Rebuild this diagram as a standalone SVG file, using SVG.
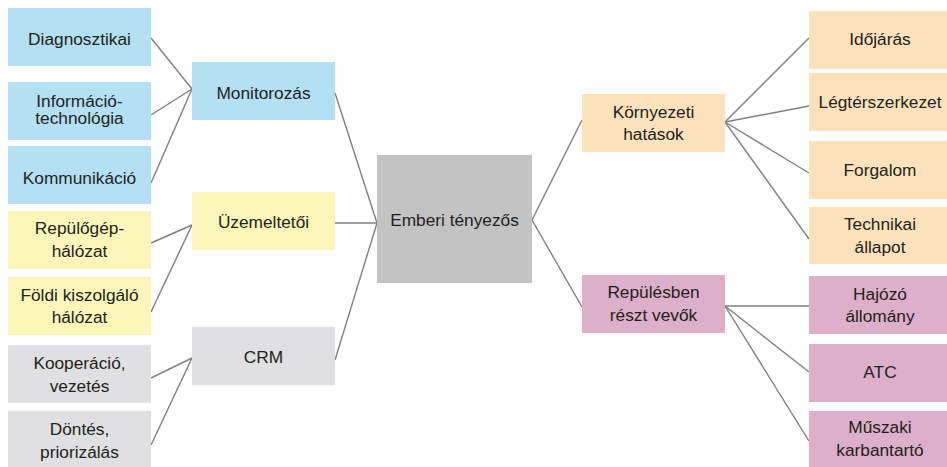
<svg xmlns="http://www.w3.org/2000/svg" width="947" height="467" viewBox="0 0 947 467">
<style>
text{font-family:"Liberation Sans",Arial,sans-serif;font-size:17.3px;fill:#231f20;text-anchor:middle}
.blue{fill:#b3e0f2}.yel{fill:#faf6b9}.gry{fill:#e0e0e2}.ctr{fill:#c3c3c3}.pch{fill:#fce2bb}.pnk{fill:#ddafc8}
#connectors line{stroke:#808080;stroke-width:1.4}
</style>
<rect width="947" height="467" fill="#ffffff"/>
<g id="connectors">
<line x1="151" y1="38" x2="192" y2="89"/>
<line x1="151" y1="115" x2="192" y2="89"/>
<line x1="151" y1="183" x2="192" y2="89"/>
<line x1="151" y1="243" x2="192" y2="225"/>
<line x1="151" y1="312" x2="192" y2="225"/>
<line x1="151" y1="378" x2="192" y2="358"/>
<line x1="151" y1="445" x2="192" y2="358"/>
<line x1="335" y1="93" x2="377" y2="223"/>
<line x1="335" y1="223" x2="377" y2="223"/>
<line x1="335" y1="360" x2="377" y2="223"/>
<line x1="532" y1="220" x2="582" y2="120"/>
<line x1="532" y1="220" x2="582" y2="307"/>
<line x1="725" y1="122" x2="809" y2="38"/>
<line x1="725" y1="122" x2="809" y2="106"/>
<line x1="725" y1="122" x2="809" y2="173"/>
<line x1="725" y1="122" x2="809" y2="239"/>
<line x1="725" y1="306" x2="809" y2="306"/>
<line x1="725" y1="306" x2="809" y2="372"/>
<line x1="725" y1="306" x2="809" y2="441"/>
</g>
<g id="diagnosztikai"><rect class="blue" x="8" y="8" width="143" height="58"/><text x="79.5" y="45">Diagnosztikai</text></g>
<g id="informacio"><rect class="blue" x="8" y="82" width="143" height="58"/><text x="79.5" y="107">Információ-</text><text x="79.5" y="124">technológia</text></g>
<g id="kommunikacio"><rect class="blue" x="8" y="146" width="143" height="58"/><text x="79.5" y="183.5">Kommunikáció</text></g>
<g id="repulogep"><rect class="yel" x="8" y="211" width="143" height="58"/><text x="79.5" y="234">Repülőgép-</text><text x="79.5" y="256.7">hálózat</text></g>
<g id="foldi"><rect class="yel" x="8" y="277" width="143" height="58"/><text x="79.5" y="300.7">Földi kiszolgáló</text><text x="79.5" y="323.3">hálózat</text></g>
<g id="kooperacio"><rect class="gry" x="8" y="345" width="143" height="58"/><text x="79.5" y="369.3">Kooperáció,</text><text x="79.5" y="391.7">vezetés</text></g>
<g id="dontes"><rect class="gry" x="8" y="411" width="143" height="58"/><text x="79.5" y="435">Döntés,</text><text x="79.5" y="457.7">priorizálás</text></g>
<g id="monitorozas"><rect class="blue" x="192" y="62" width="143" height="58"/><text x="263.5" y="99">Monitorozás</text></g>
<g id="uzemeltetoi"><rect class="yel" x="192" y="192" width="143" height="58"/><text x="263.5" y="228.3">Üzemeltetői</text></g>
<g id="crm"><rect class="gry" x="192" y="327" width="143" height="58"/><text x="263.5" y="363.3">CRM</text></g>
<g id="emberi"><rect class="ctr" x="377" y="155" width="155" height="128"/><text x="454.5" y="226">Emberi tényezős</text></g>
<g id="kornyezeti"><rect class="pch" x="582" y="94" width="143" height="58"/><text x="653.5" y="118.3">Környezeti</text><text x="653.5" y="139.8">hatások</text></g>
<g id="repulesben"><rect class="pnk" x="582" y="275" width="143" height="58"/><text x="653.5" y="298.3">Repülésben</text><text x="653.5" y="320.7">részt vevők</text></g>
<g id="idojaras"><rect class="pch" x="809" y="11" width="142" height="58"/><text x="880" y="45">Időjárás</text></g>
<g id="legter"><rect class="pch" x="809" y="73" width="142" height="58"/><text x="880" y="108.3">Légtérszerkezet</text></g>
<g id="forgalom"><rect class="pch" x="809" y="141" width="142" height="58"/><text x="880" y="176">Forgalom</text></g>
<g id="technikai"><rect class="pch" x="809" y="207" width="142" height="57"/><text x="880" y="230">Technikai</text><text x="880" y="252.7">állapot</text></g>
<g id="hajozo"><rect class="pnk" x="809" y="276" width="142" height="58"/><text x="880" y="300">Hajózó</text><text x="880" y="321.7">állomány</text></g>
<g id="atc"><rect class="pnk" x="809" y="344" width="142" height="58"/><text x="880" y="377.7">ATC</text></g>
<g id="muszaki"><rect class="pnk" x="809" y="411" width="142" height="58"/><text x="880" y="433.3">Műszaki</text><text x="880" y="456">karbantartó</text></g>
</svg>
